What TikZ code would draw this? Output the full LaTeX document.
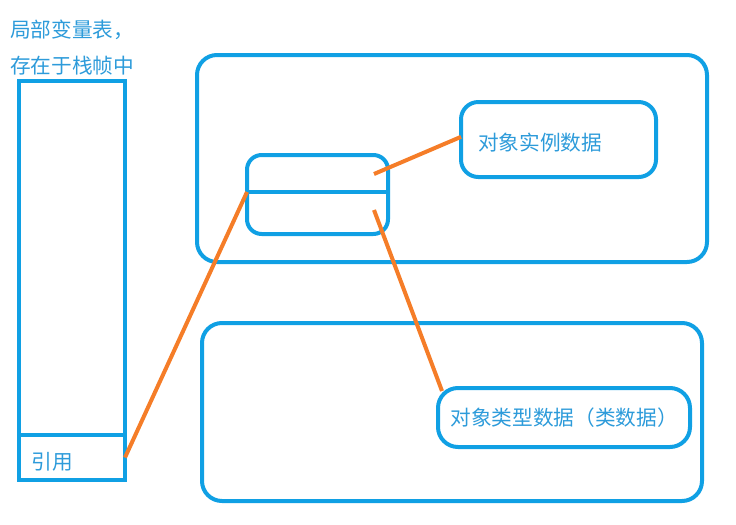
\documentclass[tikz,border=0pt]{standalone}
\usepackage{fontspec}
\newfontfamily\cjk{Noto Sans CJK SC}
\definecolor{boxblue}{RGB}{16,160,228}
\definecolor{txtblue}{RGB}{45,155,218}
\definecolor{linkorange}{RGB}{245,125,40}
\begin{document}
\begin{tikzpicture}[x=.75pt,y=-.75pt,
		box/.style={draw=boxblue,line width=3pt,inner sep=0pt,outer sep=0pt},
		lbl/.style={text=txtblue,font=\cjk\fontsize{15.5pt}{18pt}\selectfont,inner sep=0pt},
		link/.style={draw=linkorange,line width=3pt}]
		\useasboundingbox (0,0) rectangle (736,525);
		
		% stack frame
		\node[lbl,anchor=west] (title1) at (10,30) {局部变量表，};
		\node[lbl,anchor=west] (title2) at (10,66) {存在于栈帧中};
		\node[box,minimum width=106*.75pt,minimum height=354*.75pt] (frame) at (72,258) {};
		\node[box,minimum width=106*.75pt,minimum height=45*.75pt] (ref) at (72,457.5) {};
		\node[lbl] (reftext) at (52,462) {引用};
		
		% heap
		\node[box,rounded corners=15pt,minimum width=510*.75pt,minimum height=207*.75pt] (heap) at (452,158.5) {};
		\node[box,rounded corners=11pt,minimum width=141*.75pt,minimum height=79*.75pt] (obj) at (317.5,194.5) {};
		\coordinate (split) at (317.5,192);
		\draw[boxblue,line width=3pt] (obj.west |- split) -- (obj.east |- split);
		\node[box,rounded corners=13pt,minimum width=195*.75pt,minimum height=75*.75pt] (inst) at (558.5,139.5) {};
		\node[lbl] (insttext) at (540,143) {对象实例数据};
		
		% method area
		\node[box,rounded corners=15pt,minimum width=500*.75pt,minimum height=178*.75pt] (meta) at (452,412) {};
		\node[box,lbl,rounded corners=15pt,minimum width=252*.75pt,minimum height=59*.75pt] (type) at (564,417.5) {对象类型数据（类数据）};
		
		% links
		\coordinate (p1) at (374,174); \coordinate (p2) at (374,210);
		\draw[link] (ref.east) -- (obj.west |- split);
		\draw[link] (p1) -- ([yshift=2pt]inst.west);
		\draw[link] (p2) -- ([shift={(4,3)}]type.north west);
\end{tikzpicture}
\end{document}
